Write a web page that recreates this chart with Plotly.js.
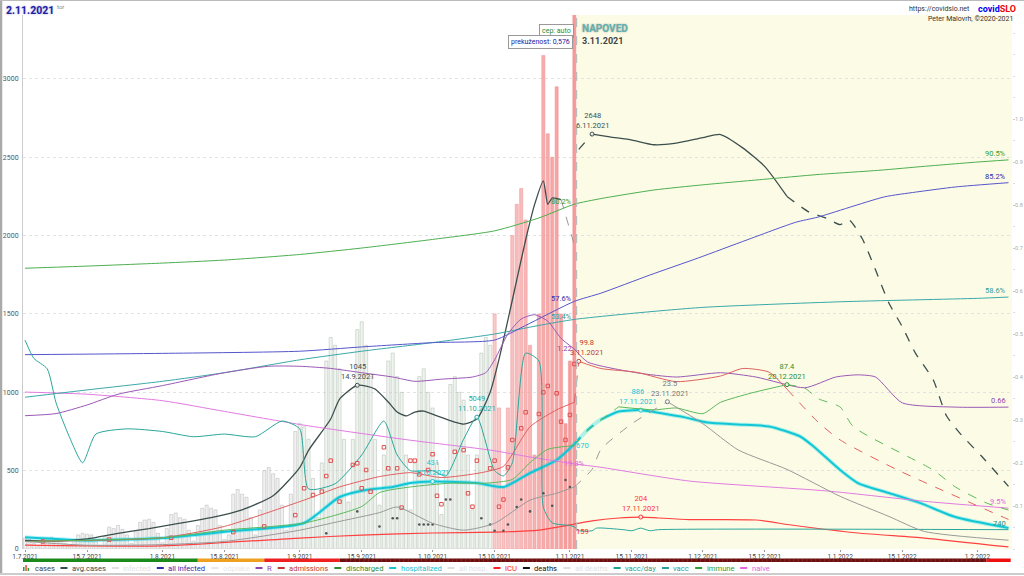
<!DOCTYPE html>
<html><head><meta charset="utf-8">
<script src="https://cdn.plot.ly/plotly-3.0.1.min.js"></script>
<style>body{margin:0;background:#fff}#c{width:1024px;height:576px}</style>
</head><body><div id="c"></div><script>
// ---------------- DATA ----------------
// daily cases from 1.7.2021 to 2.11.2021
const cases = [
70,60,35,15,45,70,75,65,60,35,15,60,90,100,95,90,55,25,80,140,130,150,125,90,35,110,170,185,190,170,100,
40,130,220,230,200,190,120,50,150,260,280,260,250,150,60,90,350,380,350,330,200,90,250,500,520,480,450,280,120,350,750,
800,780,700,450,200,550,1200,1350,1300,1150,700,300,700,1400,1450,1300,1100,700,280,600,1200,1250,1100,1000,600,250,550,1100,1150,1000,
900,550,220,500,1050,1100,1000,950,600,250,600,1250,1350,1300,1500,900,400,900,2000,2200,2300,2100,1300,600,1500,3150,2650,2500,2950,1500,800,
1200,3450];

const avgDates = ['2021-07-01','2021-07-08','2021-07-15','2021-07-22','2021-07-29','2021-08-05','2021-08-12','2021-08-19','2021-08-26','2021-09-01','2021-09-03','2021-09-08','2021-09-10','2021-09-13','2021-09-14','2021-09-16','2021-09-18','2021-09-21','2021-09-23','2021-09-25','2021-09-27','2021-09-29','2021-10-02','2021-10-06','2021-10-08','2021-10-11','2021-10-14','2021-10-16','2021-10-18','2021-10-20','2021-10-22','2021-10-24','2021-10-26','2021-10-27','2021-10-28','2021-10-30'];
const avgValues = [55,50,65,100,130,165,200,250,340,520,630,830,957,1030,1045,1040,1021,938,874,849,874,880,849,810,797,829,1001,1212,1461,1717,1972,2196,2350,2200,2240,2230];
const avgTailDates = ['2021-10-30','2021-11-02'];
const avgTailValues = [2230,1940];
const avgFcDates = ['2021-11-03','2021-11-06','2021-11-10','2021-11-15','2021-11-20','2021-11-25','2021-12-01','2021-12-05','2021-12-10','2021-12-15','2021-12-20','2021-12-25','2021-12-29','2022-01-01','2022-01-03','2022-01-06','2022-01-09','2022-01-12','2022-01-15','2022-01-18','2022-01-22','2022-01-25','2022-01-28','2022-02-02','2022-02-08'];
const avgFcValues = [2550,2648,2630,2610,2580,2590,2625,2645,2560,2440,2250,2150,2110,2070,2100,1980,1780,1570,1420,1250,1080,850,740,590,400];

const hospDates = ['2021-07-01','2021-07-15','2021-08-01','2021-08-15','2021-09-02','2021-09-10','2021-09-16','2021-09-22','2021-09-26','2021-10-01','2021-10-11','2021-10-17','2021-10-23','2021-10-29','2021-11-02'];
const hospValues = [75,55,70,110,166,332,377,396,421,431,421,396,485,568,670];
const hospFcDates = ['2021-11-02','2021-11-05','2021-11-08','2021-11-12','2021-11-17','2021-11-22','2021-11-27','2021-12-02','2021-12-09','2021-12-16','2021-12-23','2021-12-26','2022-01-01','2022-01-05','2022-01-12','2022-01-19','2022-01-27','2022-02-08'];
const hospFcValues = [670,760,826,877,886,865,840,807,795,782,718,654,504,421,357,294,204,134];

const icuDates = ['2021-07-01','2021-08-01','2021-09-01','2021-09-15','2021-10-01','2021-10-15','2021-10-25','2021-11-02'];
const icuValues = [25,20,70,89,102,108,121,159];
const icuFcDates = ['2021-11-02','2021-11-06','2021-11-12','2021-11-17','2021-11-21','2021-11-28','2021-12-13','2021-12-21','2022-01-05','2022-01-20','2022-02-08'];
const icuFcValues = [159,180,198,204,198,188,185,153,102,70,13];

const rDates = ['2021-07-01','2021-07-08','2021-07-15','2021-07-22','2021-08-01','2021-08-15','2021-08-25','2021-09-01','2021-09-08','2021-09-15','2021-09-22','2021-09-27','2021-10-03','2021-10-10','2021-10-13','2021-10-15','2021-10-18','2021-10-21','2021-10-24','2021-10-27','2021-10-30','2021-11-02'];
const rValues = [0.62,0.63,0.67,0.72,0.76,0.82,0.85,0.85,0.84,0.82,0.80,0.78,0.79,0.80,0.82,0.88,1.00,1.07,1.09,1.06,0.98,0.93];
const rFcDates = ['2021-11-02','2021-11-05','2021-11-16','2021-11-25','2021-12-05','2021-12-13','2021-12-24','2021-12-31','2022-01-05','2022-01-09','2022-01-15','2022-01-27','2022-02-08'];
const rFcValues = [0.93,0.87,0.82,0.80,0.82,0.80,0.75,0.80,0.81,0.80,0.68,0.66,0.66];

const allInfDates = ['2021-07-01','2021-08-01','2021-09-01','2021-09-15','2021-10-01','2021-10-15','2021-10-22','2021-11-02','2021-11-08','2021-11-19','2021-11-30','2021-12-11','2021-12-22','2021-12-27','2022-01-11','2022-01-18','2022-01-27','2022-02-08'];
const allInfValues = [0.452,0.455,0.46,0.47,0.48,0.486,0.52,0.576,0.595,0.637,0.677,0.719,0.76,0.772,0.819,0.83,0.842,0.852];

const immuneDates = ['2021-07-01','2021-07-15','2021-08-01','2021-08-15','2021-09-01','2021-09-15','2021-10-01','2021-10-15','2021-10-25','2021-11-02','2021-11-08','2021-11-20','2021-12-01','2021-12-15','2021-12-27','2022-01-10','2022-01-20','2022-02-01','2022-02-08'];
const immuneValues = [0.653,0.658,0.665,0.672,0.685,0.70,0.72,0.74,0.77,0.802,0.815,0.835,0.847,0.86,0.871,0.881,0.89,0.90,0.905];

const vaccDates = ['2021-07-01','2021-07-15','2021-08-01','2021-08-15','2021-09-01','2021-09-15','2021-10-01','2021-10-15','2021-10-25','2021-11-02','2021-11-15','2021-12-01','2022-01-01','2022-02-01','2022-02-08'];
const vaccValues = [0.353,0.37,0.39,0.41,0.44,0.46,0.48,0.50,0.52,0.534,0.548,0.562,0.575,0.583,0.586];

const naiveDates = ['2021-07-01','2021-07-15','2021-08-01','2021-08-15','2021-09-02','2021-09-26','2021-10-14','2021-10-23','2021-11-02','2021-11-08','2021-11-28','2021-12-29','2022-01-21','2022-02-08'];
const naiveValues = [0.365,0.36,0.345,0.32,0.288,0.253,0.23,0.214,0.198,0.19,0.158,0.135,0.11,0.095];

const admDates = ['2021-07-01','2021-08-01','2021-08-15','2021-09-02','2021-09-10','2021-09-19','2021-09-26','2021-10-03','2021-10-12','2021-10-17','2021-10-23','2021-10-29','2021-11-02'];
const admValues = [4,6,12,26,33,38.5,40.6,38,40.6,44,65,74,78];
const admFcDates = ['2021-11-02','2021-11-03','2021-11-08','2021-11-16','2021-11-25','2021-12-05','2021-12-10','2021-12-16','2021-12-20','2021-12-27','2022-01-01','2022-01-14','2022-02-08'];
const admFcValues = [78,99.8,96,94,89,92,96,94,85,67.5,58,42,15.7];
const admDayDates = ['2021-07-05','2021-07-20','2021-08-03','2021-08-17','2021-08-24','2021-08-31','2021-09-02','2021-09-04','2021-09-06','2021-09-07','2021-09-08','2021-09-10','2021-09-13','2021-09-14','2021-09-15','2021-09-16','2021-09-17','2021-09-20','2021-09-21','2021-09-23','2021-09-24','2021-09-26','2021-09-27','2021-09-28','2021-09-30','2021-10-01','2021-10-02','2021-10-03','2021-10-06','2021-10-08','2021-10-09','2021-10-10','2021-10-11','2021-10-14','2021-10-15','2021-10-16','2021-10-17','2021-10-18','2021-10-19','2021-10-21','2021-10-22','2021-10-25','2021-10-26','2021-10-27','2021-10-29','2021-10-30','2021-10-31','2021-11-01','2021-11-02'];
const admDayValues = [4,5,6,9,12,18,32.3,28.7,30.5,38.8,47,25.2,44.7,45.6,32.3,42,30.5,54.1,42.9,42.9,22,47,47,39.7,42,50.4,28.3,23.8,51.7,52.6,29.6,22.5,47,42.9,47,22.5,26.3,43.4,58,64.2,72.7,71.8,83.3,86.7,82.8,67.7,58,71.3,98.4];

const disDates = ['2021-07-01','2021-08-01','2021-08-15','2021-09-02','2021-09-15','2021-09-19','2021-09-26','2021-10-05','2021-10-13','2021-10-19','2021-10-23','2021-10-27','2021-11-02'];
const disValues = [4,6,10,13.8,22.6,30,33,35,35,37,46,53,55];
const disFcDates = ['2021-11-02','2021-11-05','2021-11-12','2021-11-20','2021-11-25','2021-12-01','2021-12-05','2021-12-12','2021-12-20','2021-12-24','2021-12-27','2022-01-01','2022-01-04','2022-01-22','2022-01-27','2022-02-03','2022-02-08'];
const disFcValues = [55,63,75.6,74,75,72,78,83,87.4,85.6,80,75.5,65,42,33,24.5,20.7];

const deathDates = ['2021-07-01','2021-07-15','2021-08-01','2021-08-15','2021-09-01','2021-09-08','2021-09-19','2021-09-23','2021-10-01','2021-10-08','2021-10-15','2021-10-23','2021-10-29','2021-11-02'];
const deathValues = [1.2,0.6,0.7,1.2,3,4.1,5.8,6.7,4.1,3,4.1,7.8,8.9,9.9];
const deathFcDates = ['2021-11-02','2021-11-06','2021-11-08','2021-11-15','2021-11-23','2021-12-01','2021-12-09','2021-12-20','2022-01-01','2022-01-12','2022-01-20','2022-02-08'];
const deathFcValues = [9.9,12.7,15.9,20,23.5,20,15.8,12.7,8.4,5.2,2.8,1.4];
const deathDayDates = ['2021-09-07','2021-09-14','2021-09-19','2021-09-22','2021-09-23','2021-09-28','2021-09-29','2021-09-30','2021-10-01','2021-10-04','2021-10-05','2021-10-12','2021-10-14','2021-10-15','2021-10-17','2021-10-18','2021-10-20','2021-10-21','2021-10-23','2021-10-26','2021-10-28','2021-10-31','2021-11-01'];
const deathDayValues = [2.5,6,3.6,4.9,4.9,3.9,3.9,3.9,3.9,7.9,7.9,4.9,3.9,2.9,2.9,3.9,6.7,7.9,6,8.9,6.9,11,9.9];

const vdDates = ['2021-07-01','2021-07-03','2021-07-06','2021-07-08','2021-07-11','2021-07-14','2021-07-17','2021-07-24','2021-08-01','2021-08-08','2021-08-15','2021-08-22','2021-08-28','2021-09-01','2021-09-03','2021-09-09','2021-09-15','2021-09-20','2021-09-23','2021-09-26','2021-10-01','2021-10-04','2021-10-08','2021-10-11','2021-10-15','2021-10-17','2021-10-19','2021-10-22','2021-10-25','2021-10-26','2021-10-28','2021-11-01','2021-11-02'];
const vdValues = [8000,7300,6900,5600,4300,3300,4400,4600,4500,4300,4400,4300,4900,4600,2300,2500,3600,4900,3600,3000,3000,2800,4200,5049,3000,2800,3300,7500,7200,1600,1000,900,850];
const vdFcDates = ['2021-11-02','2021-11-03','2021-11-06','2021-11-07','2021-11-13','2021-11-15','2021-11-17','2021-11-19','2021-11-21','2022-02-08'];
const vdFcValues = [850,700,700,800,740,700,800,700,740,740];

const legendNames = ['cases','avg.cases','infected','all infected','odplake','R','admissions','discharged','hospitalized','all hosp.','ICU','deaths','all deaths','vacc/day','vacc','immune','naive'];
const legendColors = ['#444','#2f4f4f','#bbb','#2b2bb0','#ccc','#8e44ad','#c0392b','#2e8b2e','#17c3d3','#bbb','#ff2020','#111','#bbb','#1f9e8f','#2a9d9d','#2e9e2e','#e066e0'];
const legendFaded = [0,0,1,0,1,0,0,0,0,1,0,0,1,0,0,0,0];

// ---------------- HELPERS ----------------
function dayStr(i){const d=new Date(Date.UTC(2021,6,1+i));return d.toISOString().slice(0,10);}
const caseDates = cases.map((_,i)=>dayStr(i));
function barFill(i){
  if(i<62) return 'rgba(228,228,228,0.55)';
  if(i<106) return 'rgba(222,238,222,0.55)';
  const t=Math.min(1,(i-106)/18);
  return `rgba(${248-4*t|0},${195-60*t|0},${195-60*t|0},0.85)`;
}
function barLine(i){ return i<106 ? 'rgba(150,150,150,0.55)' : 'rgba(240,150,150,0.9)'; }
function subset(dates,vals,a,b){const xs=[],ys=[];dates.forEach((d,i)=>{if(d>=a&&d<=b){xs.push(d);ys.push(vals[i]);}});return [xs,ys];}

const FONT='Roboto, "Noto Sans", sans-serif';
const L=23,R=12,T=15,B=27,W=1024,H=576;
const PW=W-L-R, PH=H-T-B;
const px2x=p=>(p-L)/PW, px2y=p=>(H-B-p)/PH;
const LEFTMAX=3408, RIGHTMAX=1.242;

function line(xy,axis,color,width,dash,extra){
  return Object.assign({type:'scatter',mode:'lines',x:xy[0],y:xy[1],yaxis:axis,line:{color,width,dash:dash||'solid',shape:'spline',smoothing:0.6},hoverinfo:'skip',showlegend:false},extra||{});
}
const END='2022-12-31';
const traces=[
 {type:'bar',x:caseDates,y:cases,yaxis:'y',marker:{color:cases.map((_,i)=>barFill(i)),line:{color:cases.map((_,i)=>barLine(i)),width:0.6}},showlegend:false,hoverinfo:'skip'},
 line([naiveDates,naiveValues],'y2','#e27ae2',1),
 line([vaccDates,vaccValues],'y2','#3aa8a8',1),
 line([immuneDates,immuneValues],'y2','#4caf50',1),
 line([allInfDates,allInfValues],'y2','#5555cc',1),
 line([rDates,rValues],'y3','#9b59b6',1),
 line([rFcDates,rFcValues],'y3','#9b59b6',1),
 line([vdDates,vdValues],'y4','#2aa79b',1),
 line([vdFcDates,vdFcValues],'y4','#2aa79b',1),
 {type:'scatter',mode:'markers',x:admDayDates,y:admDayValues,yaxis:'y5',marker:{symbol:'square-open',size:3.5,color:'#e05050',line:{width:1}},showlegend:false,hoverinfo:'skip'},
 {type:'scatter',mode:'markers',x:deathDayDates,y:deathDayValues,yaxis:'y6',marker:{symbol:'circle',size:2.6,color:'#555'},showlegend:false,hoverinfo:'skip'},
 line([admDates,admValues],'y5','#e06060',1),
 line(subset(admFcDates,admFcValues,'2021-11-02','2021-11-03'),'y5','#e06060',1,'dash'),
 line(subset(admFcDates,admFcValues,'2021-11-03','2021-12-20'),'y5','#e06060',1),
 line(subset(admFcDates,admFcValues,'2021-12-20',END),'y5','#e06060',1,'dash'),
 line([disDates,disValues],'y5','#5cb85c',1),
 line(subset(disFcDates,disFcValues,'2021-11-02','2021-11-12'),'y5','#5cb85c',1,'dash'),
 line(subset(disFcDates,disFcValues,'2021-11-12','2021-12-20'),'y5','#5cb85c',1),
 line(subset(disFcDates,disFcValues,'2021-12-20',END),'y5','#5cb85c',1,'dash'),
 line([deathDates,deathValues],'y6','#999',1),
 line(subset(deathFcDates,deathFcValues,'2021-11-02','2021-11-23'),'y6','#999',1,'dash'),
 line(subset(deathFcDates,deathFcValues,'2021-11-23',END),'y6','#999',1),
 line([icuDates,icuValues],'y','#ff4040',1.2),
 line([icuFcDates,icuFcValues],'y','#ff4040',1.2),
 line([hospDates,hospValues],'y','rgba(0,215,230,0.3)',4),
 line([hospDates,hospValues],'y','#12c6d6',2),
 line([hospFcDates,hospFcValues],'y','rgba(0,215,230,0.3)',4),
 line(subset(hospFcDates,hospFcValues,'2021-11-02','2021-11-08'),'y','#12c6d6',2,'dash'),
 line(subset(hospFcDates,hospFcValues,'2021-11-08',END),'y','#12c6d6',2),
 line([avgDates,avgValues],'y','#3d4f4d',1.3),
 line([avgTailDates,avgTailValues],'y','#999',1,'dash'),
 line(subset(avgFcDates,avgFcValues,'2021-11-03','2021-11-06'),'y','#3d4f4d',1.3,'dash'),
 line(subset(avgFcDates,avgFcValues,'2021-11-06','2021-12-20'),'y','#3d4f4d',1.3),
 line(subset(avgFcDates,avgFcValues,'2021-12-20',END),'y','#3d4f4d',1.3,'dash'),
];

const marks=[
 {x:'2021-09-14',y:1045,ax:'y',c:'#3d4f4d',t:'1045<br>14.9.2021',xs:0},
 {x:'2021-10-11',y:5049,ax:'y4',c:'#2aa79b',t:'5049<br>11.10.2021',xs:0},
 {x:'2021-10-01',y:431,ax:'y',c:'#12c6d6',t:'431<br>1.10.2021',xs:0},
 {x:'2021-11-06',y:2648,ax:'y',c:'#3d4f4d',t:'2648<br>6.11.2021',xs:0},
 {x:'2021-11-17',y:886,ax:'y',c:'#12c6d6',t:'886<br>17.11.2021',xs:-3},
 {x:'2021-11-23',y:23.5,ax:'y6',c:'#777',t:'23.5<br>23.11.2021',xs:3},
 {x:'2021-12-20',y:87.4,ax:'y5',c:'#2e8b2e',t:'87.4<br>20.12.2021',xs:0},
 {x:'2021-11-03',y:99.8,ax:'y5',c:'#c0392b',t:'99.8<br>3.11.2021',xs:8},
 {x:'2021-11-17',y:204,ax:'y',c:'#ff3030',t:'204<br>17.11.2021',xs:0},
];
marks.forEach(m=>traces.push({type:'scatter',mode:'markers',x:[m.x],y:[m.y],yaxis:m.ax,marker:{size:4,color:'rgba(255,255,255,0.8)',line:{color:m.c,width:1}},showlegend:false,hoverinfo:'skip'}));

const ann=[];
marks.forEach(m=>ann.push({x:m.x,y:m.y,xref:'x',yref:m.ax,text:m.t,showarrow:false,yanchor:'bottom',yshift:2,xshift:m.xs,font:{family:FONT,size:7.5,color:m.c},align:'center'}));
const side=[
 {x:'2021-11-02',y:0.802,ax:'y2',c:'#2e9e2e',t:'80.2%',xa:'right',ys:-4},
 {x:'2021-11-02',y:0.576,ax:'y2',c:'#2b2bb0',t:'57.6%',xa:'right',ys:-4},
 {x:'2021-11-02',y:0.534,ax:'y2',c:'#2a9d9d',t:'53.4%',xa:'right',ys:-4},
 {x:'2021-11-02',y:0.93,ax:'y3',c:'#8e44ad',t:'1.22',xa:'right',ys:-6},
 {x:'2021-11-02',y:670,ax:'y',c:'#12c6d6',t:'670',xa:'left',ys:-8},
 {x:'2021-11-02',y:0.198,ax:'y2',c:'#e066e0',t:'19.8%',xa:'center',ys:-6},
 {x:'2021-11-02',y:159,ax:'y',c:'#ff2020',t:'159',xa:'left',ys:-14},
 {x:'2022-02-08',y:0.905,ax:'y2',c:'#2e9e2e',t:'90.5%',xa:'right',ys:0},
 {x:'2022-02-08',y:0.852,ax:'y2',c:'#2b2bb0',t:'85.2%',xa:'right',ys:0},
 {x:'2022-02-08',y:0.586,ax:'y2',c:'#2a9d9d',t:'58.6%',xa:'right',ys:0},
 {x:'2022-02-08',y:0.66,ax:'y3',c:'#8e44ad',t:'0.66',xa:'right',ys:0},
 {x:'2022-02-08',y:0.095,ax:'y2',c:'#e066e0',t:'9.5%',xa:'right',ys:0},
 {x:'2022-02-08',y:740,ax:'y4',c:'#1f8a80',t:'740',xa:'right',ys:0},
];
side.forEach(s=>ann.push({x:s.x,y:s.y,xref:'x',yref:s.ax,text:s.t,showarrow:false,xanchor:s.xa,yanchor:'bottom',yshift:s.ys,font:{family:FONT,size:7.5,color:s.c}}));

ann.push(
 {xref:'paper',yref:'paper',x:px2x(4),y:px2y(11),xanchor:'left',yanchor:'middle',text:'<b>2.11.2021</b>',showarrow:false,font:{family:FONT,size:10.5,color:'#1f1f9f',shadow:'0px 0px 2px rgba(60,60,200,0.5)'}},
 {xref:'paper',yref:'paper',x:px2x(55),y:px2y(6),xanchor:'left',yanchor:'middle',text:'tor',showarrow:false,font:{family:FONT,size:6,color:'#888'}},
 {xref:'paper',yref:'paper',x:px2x(972),y:px2y(9),xanchor:'right',yanchor:'middle',text:'https://covidslo.net',showarrow:false,font:{family:FONT,size:7,color:'#333'}},
 {xref:'paper',yref:'paper',x:px2x(976),y:px2y(9),xanchor:'left',yanchor:'middle',text:'<b><span style="color:#0000ee">covid</span><span style="color:#ee0000">SLO</span></b>',showarrow:false,font:{family:FONT,size:9}},
 {xref:'paper',yref:'paper',x:px2x(1015),y:px2y(19),xanchor:'right',yanchor:'middle',text:'Peter Malovrh, ©2020-2021',showarrow:false,font:{family:FONT,size:7,color:'#333'}},
 {xref:'paper',yref:'paper',x:px2x(574),y:px2y(31),xanchor:'right',yanchor:'middle',text:'cep: auto',showarrow:false,bgcolor:'#fff',bordercolor:'#999',borderwidth:1,borderpad:2,font:{family:FONT,size:7,color:'#2e8b2e'}},
 {xref:'paper',yref:'paper',x:px2x(573),y:px2y(42),xanchor:'right',yanchor:'middle',text:'prekuženost: 0,576',showarrow:false,bgcolor:'#fff',bordercolor:'#999',borderwidth:1,borderpad:2,font:{family:FONT,size:7,color:'#2020a0'}},
 {xref:'paper',yref:'paper',x:px2x(580),y:px2y(29),xanchor:'left',yanchor:'middle',text:'<b>NAPOVED</b>',showarrow:false,font:{family:FONT,size:10,color:'#5fb0b0',shadow:'0px 0px 2px rgba(0,0,0,0.35)'}},
 {xref:'paper',yref:'paper',x:px2x(580),y:px2y(41),xanchor:'left',yanchor:'middle',text:'<b>3.11.2021</b>',showarrow:false,font:{family:FONT,size:9,color:'#444'}}
);

const shapes=[];
const cv=document.createElement('canvas').getContext('2d');
const LFS=7.6; cv.font=`${LFS}px Roboto`;
let lx=23; const ly=568;
legendNames.forEach((n,i)=>{
  const col=legendColors[i], op=legendFaded[i]?0.45:1;
  if(i===0){
    [[0,'#2e9e2e',4],[2.3,'#e74c3c',6],[4.6,'#2e9e2e',3]].forEach(b=>shapes.push({type:'rect',xref:'paper',yref:'paper',x0:px2x(lx+b[0]),x1:px2x(lx+b[0]+1.5),y0:px2y(ly+3),y1:px2y(ly+3-b[2]),line:{width:0},fillcolor:b[1]}));
  } else {
    shapes.push({type:'line',xref:'paper',yref:'paper',x0:px2x(lx),x1:px2x(lx+7),y0:px2y(ly),y1:px2y(ly),line:{color:col,width:2},opacity:op});
  }
  const tx=lx+9.5;
  ann.push({xref:'paper',yref:'paper',x:px2x(tx),y:px2y(ly),xanchor:'left',yanchor:'middle',text:n,showarrow:false,font:{family:FONT,size:LFS,color:col},opacity:op});
  lx=tx+cv.measureText(n).width+8;
});

shapes.push(
 {type:'rect',xref:'x',yref:'paper',x0:'2021-11-02 12:00',x1:'2022-02-08 19:00',y0:0,y1:1,fillcolor:'#fcfce6',line:{width:0},layer:'below'},
 {type:'line',xref:'x',yref:'paper',x0:'2021-11-02 12:00',x1:'2021-11-02 12:00',y0:0,y1:1,line:{color:'#bbb',width:1.2,dash:'dash'}},
 {type:'line',xref:'paper',yref:'paper',x0:px2x(1),x1:px2x(1),y0:px2y(0),y1:px2y(574),line:{color:'#aaa',width:2.5}},
 {type:'line',xref:'paper',yref:'paper',x0:px2x(0),x1:px2x(1024),y0:px2y(0.5),y1:px2y(0.5),line:{color:'#bbb',width:1}},
 {type:'line',xref:'paper',yref:'paper',x0:px2x(0),x1:px2x(1024),y0:px2y(574),y1:px2y(574),line:{color:'#ccc',width:2}}
);
const phaseStarts=['2021-06-30 13:00','2021-08-09','2021-08-24','2021-09-10','2022-02-03'];
const phaseEnds=['2021-08-09','2021-08-24','2021-09-10','2022-02-03','2022-02-08 12:00'];
const phaseColors=['#1a8a1a','#f0a020','#ee2020','#6b0f0f','#ee1010'];
phaseStarts.forEach((s,i)=>shapes.push({type:'rect',xref:'x',yref:'paper',x0:s,x1:phaseEnds[i],y0:px2y(562),y1:px2y(558.5),fillcolor:phaseColors[i],line:{width:0},layer:'below'}));
// faint day separators inside the dark-red phase
for(let i=72;i<218;i++){
  const d=dayStr(i)+' 12:00';
  shapes.push({type:'line',xref:'x',yref:'paper',x0:d,x1:d,y0:px2y(562),y1:px2y(558.5),line:{color:'rgba(200,90,90,0.55)',width:0.6},layer:'below'});
}

const tickDates=['2021-07-01','2021-07-15','2021-08-01','2021-08-15','2021-09-01','2021-09-15','2021-10-01','2021-10-15','2021-11-01','2021-11-15','2021-12-01','2021-12-15','2022-01-01','2022-01-15','2022-02-01'];
const tickText=tickDates.map(d=>{const [y,m,dd]=d.split('-');return `${+dd}.${+m}.${y}`;});

const layout={
 width:W,height:H,margin:{l:L,r:R,t:T,b:B},paper_bgcolor:'#fff',plot_bgcolor:'rgba(0,0,0,0)',
 showlegend:false,bargap:0.3,font:{family:FONT},
 xaxis:{type:'date',range:['2021-06-30 13:00','2022-02-08 19:00'],tickvals:tickDates,ticktext:tickText,tickfont:{size:6.5,color:'#444'},ticks:'outside',ticklen:2,tickcolor:'#999',showgrid:false,showline:false,zeroline:false,ticklabelstandoff:-1},
 yaxis:{range:[0,LEFTMAX],tickvals:[0,500,1000,1500,2000,2500,3000],tickfont:{size:7,color:'#555'},showgrid:true,gridcolor:'#e2e2e2',griddash:'dot',gridwidth:1,zeroline:false,showline:true,linecolor:'#ccc',ticks:'',ticklabelstandoff:2},
 yaxis2:{overlaying:'y',side:'right',range:[0,RIGHTMAX],tickvals:[0.1,0.2,0.3,0.4,0.5,0.6,0.7,0.8,0.9,1.0],ticktext:['0.1','0.2','0.3','0.4','0.5','0.6','0.7','0.8','0.9','1.0'],tickfont:{size:5.5,color:'#aaa'},ticks:'outside',ticklen:2,tickcolor:'#ccc',minor:{dtick:0.05,ticks:'outside',ticklen:2,tickcolor:'#ddd'},showgrid:false,zeroline:false,showline:false,ticklabelstandoff:-1},
 yaxis3:{overlaying:'y',range:[0,2*RIGHTMAX],visible:false},
 yaxis4:{overlaying:'y',range:[0,LEFTMAX*6],visible:false},
 yaxis5:{overlaying:'y',range:[0,LEFTMAX/12],visible:false},
 yaxis6:{overlaying:'y',range:[0,LEFTMAX/40],visible:false},
 shapes,annotations:ann
};
Plotly.newPlot('c',traces,layout,{staticPlot:true});
</script></body></html>
